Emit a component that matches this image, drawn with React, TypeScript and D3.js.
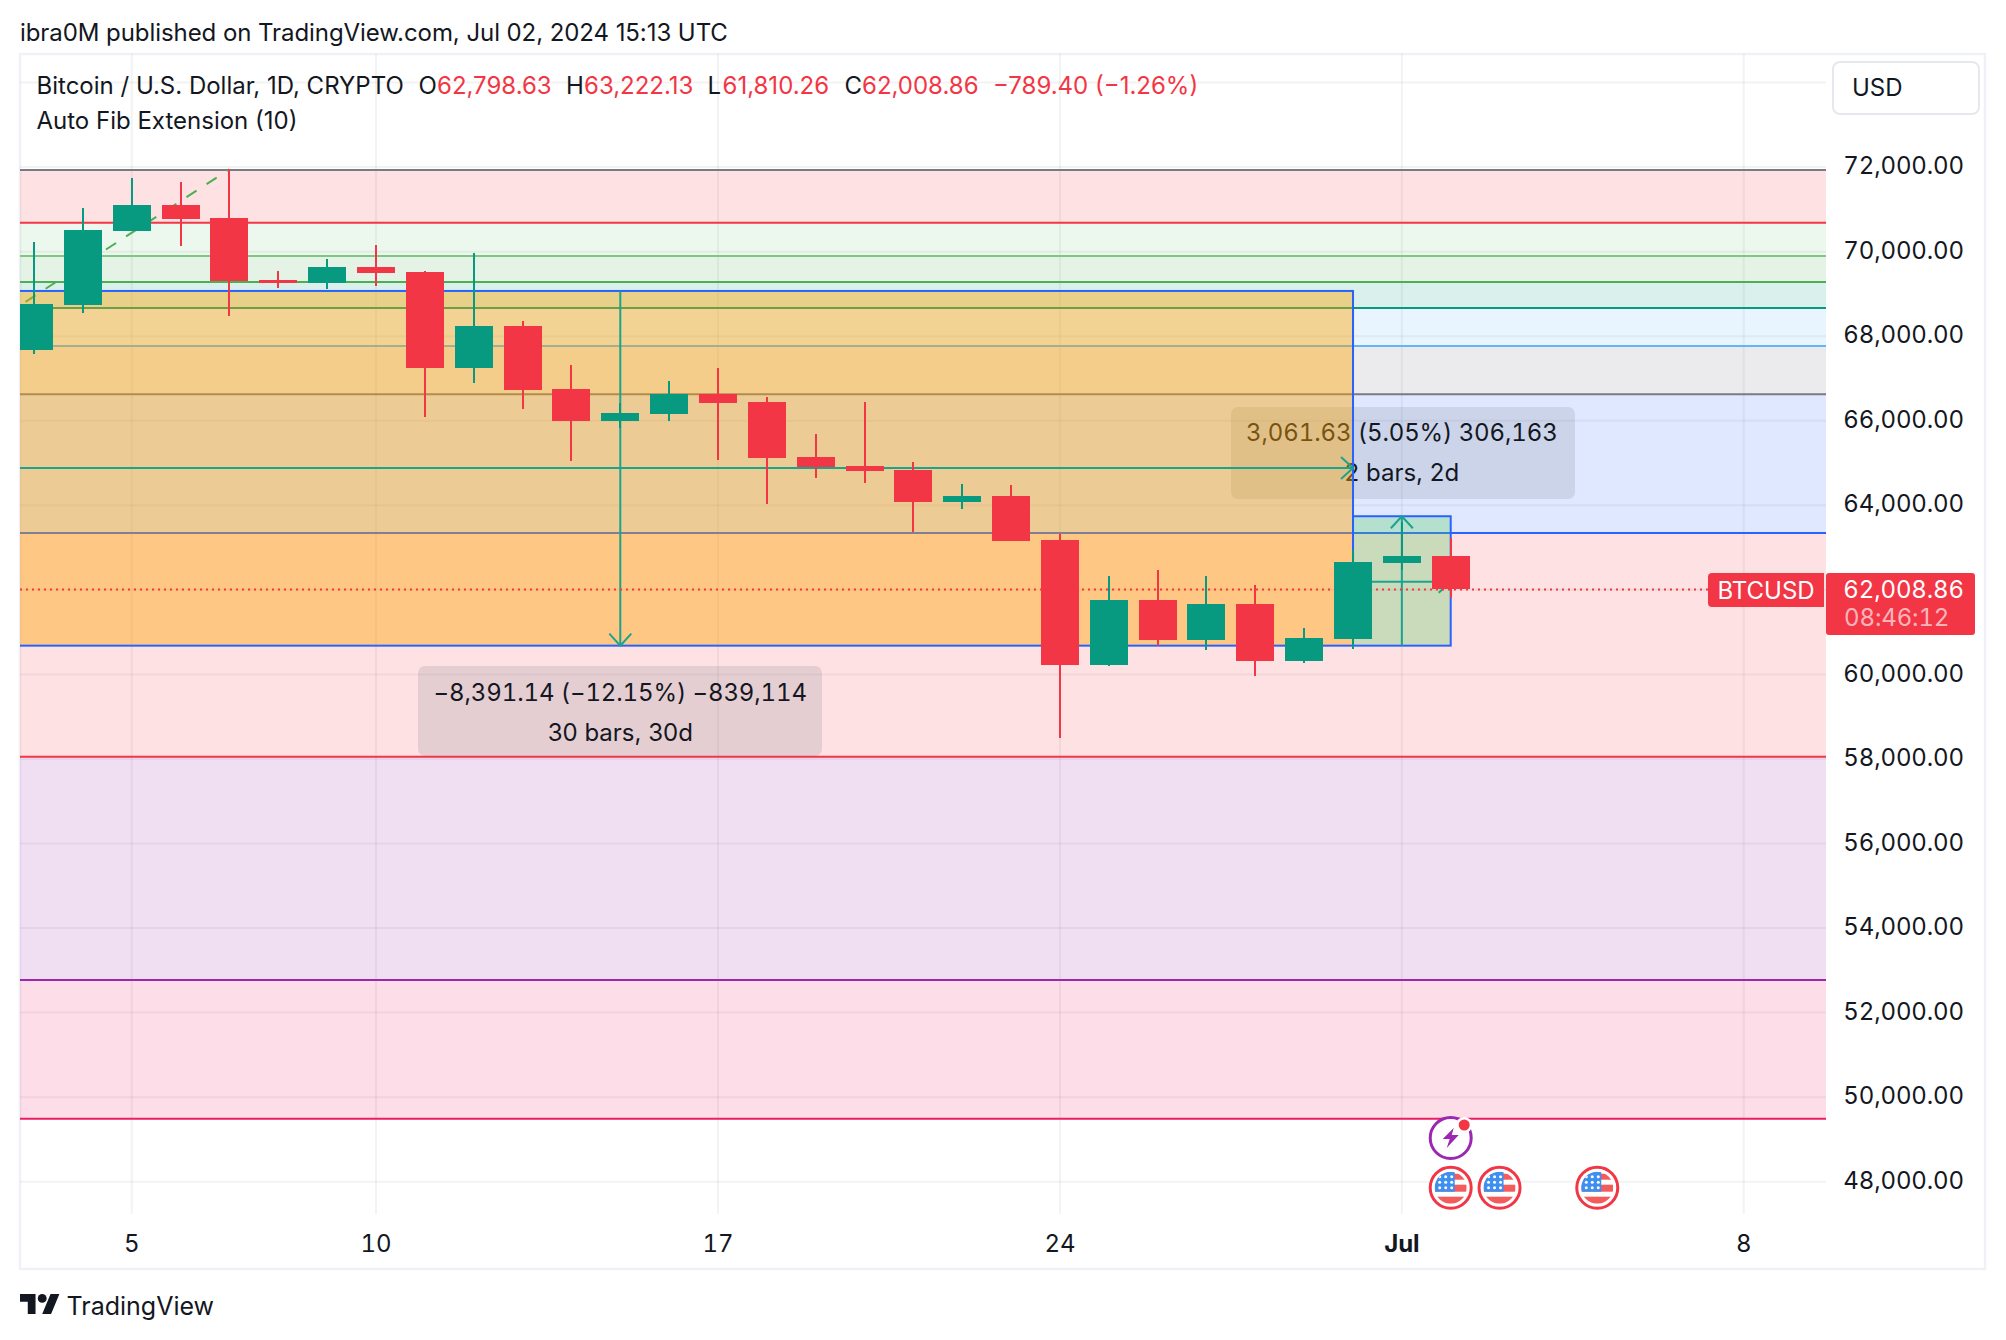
import React, { useEffect, useRef } from 'react'
import * as d3 from 'd3'

// June day numbers, July continues as 31 = Jul 1
const days = [3, 4, 5, 6, 7, 8, 9, 10, 11, 12, 13, 14, 15, 16, 17, 18, 19, 20, 21, 22, 23, 24, 25, 26, 27, 28, 29, 30, 31, 32]
const opens = [67674, 68738, 70489, 71104, 70796, 69330, 69259, 69637, 69519, 67248, 68242, 66752, 65994, 66160, 66631, 66444, 65143, 64930, 64835, 64078, 64220, 63180, 60222, 61760, 60814, 61665, 60313, 60838, 62633, 62798.63]
const highs = [70222, 71033, 71743, 71648, 71950, 69543, 69826, 70158, 69543, 69968, 68360, 67319, 66420, 66941, 67248, 66562, 65686, 66444, 65025, 64503, 64480, 63322, 62328, 62470, 62328, 62115, 61098, 62941, 63600, 63222.13]
const lows = [67579, 68549, 70489, 70134, 68485, 69140, 69117, 69188, 66089, 66893, 66278, 65048, 65836, 65994, 65072, 64031, 64645, 64527, 63369, 63913, 63156, 58496, 60198, 60672, 60577, 59958, 60266, 60601, 62470, 61810.26]
const closes = [68762, 70513, 71104, 70773, 69306, 69259, 69637, 69495, 67248, 68242, 66728, 65994, 66184, 66631, 66420, 65119, 64906, 64812, 64078, 64220, 63156, 60222, 61760, 60814, 61665, 60313, 60861, 62657, 62798.63, 62008.86]

const fibLevels = [71930, 70685, 69897, 69282, 68667, 67768, 66628, 63345, 58053, 52771, 49490]
const fibColors = ['#787b86', '#f23645', '#81c784', '#4caf50', '#089981', '#64b5f6', '#787b86', '#2962ff', '#f23645', '#9c27b0', '#e91e63']
const fibTrend = [[2, 68194], [7, 71950]]

const gridPrices = d3.range(48000, 74001, 2000)
const axisPrices = [72000, 70000, 68000, 66000, 64000, 60000, 58000, 56000, 54000, 52000, 50000, 48000]
const dayTicks = [5, 10, 17, 24, 31, 38]
const dayLabels = ['5', '10', '17', '24', 'Jul', '8']
const eventDays = [32, 33, 35]
const lastPrice = 62008.86

const measureDown = { from: 0, to: 30, mid: 15, top: 69070, bottom: 60680 }
const measureUp = { from: 30, to: 32, mid: 31, top: 63741, bottom: 60680 }

const font = 'Inter, "Noto Sans", sans-serif'
const ink = '#131722'
const red = '#f23645'
const green = '#089981'
const blue = '#2962ff'

const x = d3.scaleLinear().domain([5, 38]).range([131.8, 1743.8])
const y = d3.scaleLinear().domain([48000, 72000]).range([1181.7, 167.1])

const plotLeft = 20
const plotRight = 1826
const plotTop = 54
const plotBottom = 1214

export default function App() {
  const svgRef = useRef(null)

  useEffect(() => {
    const svg = d3.select(svgRef.current)
    svg.selectAll('*').remove()

    svg.append('rect').attr('width', 2006).attr('height', 1340).attr('fill', '#fff')
    svg.append('defs').append('clipPath').attr('id', 'plot').append('rect')
      .attr('x', plotLeft).attr('y', plotTop).attr('width', plotRight - plotLeft).attr('height', plotBottom - plotTop)

    const text = (parent, str, px, py, size, color = ink, anchor = 'start', weight = 400) =>
      parent.append('text').attr('x', px).attr('y', py).attr('dy', '0.36em')
        .attr('font-family', font).attr('font-size', size).attr('fill', color)
        .attr('text-anchor', anchor).attr('font-weight', weight).text(str)
    // axis and tool labels use fixed width digits, the legend does not
    const numText = (parent, str, px, py, size, color = ink, anchor = 'start', weight = 400) =>
      text(parent, str, px, py, size, color, anchor, weight)
        .style('font-variant-numeric', 'tabular-nums').attr('letter-spacing', -0.12)

    // frame
    svg.append('rect').attr('x', plotLeft).attr('y', plotTop).attr('width', 1965).attr('height', 1215)
      .attr('fill', 'none').attr('stroke', '#f0f1f6').attr('stroke-width', 2.5)

    const plot = svg.append('g').attr('clip-path', 'url(#plot)')

    // grid
    plot.append('g').selectAll('line').data(gridPrices).join('line')
      .attr('x1', plotLeft).attr('x2', plotRight)
      .attr('y1', d => y(d)).attr('y2', d => y(d))
      .attr('stroke', 'rgba(42,46,57,0.06)').attr('stroke-width', 2)
    plot.append('g').selectAll('line').data(dayTicks).join('line')
      .attr('x1', d => x(d)).attr('x2', d => x(d))
      .attr('y1', plotTop).attr('y2', plotBottom)
      .attr('stroke', 'rgba(42,46,57,0.06)').attr('stroke-width', 2)

    // fib bands
    plot.append('g').selectAll('rect').data(d3.pairs(fibLevels)).join('rect')
      .attr('x', plotLeft).attr('width', plotRight - plotLeft)
      .attr('y', d => y(d[0])).attr('height', d => y(d[1]) - y(d[0]))
      .attr('fill', (d, i) => d3.color(fibColors[i + 1]).copy({ opacity: 0.15 }).toString())
    plot.append('g').selectAll('line').data(fibLevels).join('line')
      .attr('x1', plotLeft).attr('x2', plotRight)
      .attr('y1', d => y(d)).attr('y2', d => y(d))
      .attr('stroke', (d, i) => fibColors[i]).attr('stroke-width', 2)

    plot.append('path')
      .attr('d', d3.line().x(d => x(d[0])).y(d => y(d[1]))(fibTrend))
      .attr('fill', 'none').attr('stroke', '#4caf50').attr('stroke-width', 2).attr('stroke-dasharray', '12 12')

    const chevron = (g, px, py, dir) => {
      const paths = {
        down: `M${px - 11},${py - 12}L${px},${py}L${px + 11},${py - 12}`,
        up: `M${px - 11},${py + 12}L${px},${py}L${px + 11},${py + 12}`,
        right: `M${px - 12},${py - 11}L${px},${py}L${px - 12},${py + 11}`,
      }
      g.append('path').attr('d', paths[dir]).attr('fill', 'none').attr('stroke', '#1ba48d').attr('stroke-width', 2)
    }

    const drawMeasure = (g, m, fill, dir, arrowY) => {
      const x0 = x(m.from), x1 = x(m.to), y0 = y(m.top), y1 = y(m.bottom), xm = x(m.mid)
      g.append('rect').attr('x', x0).attr('y', y0).attr('width', x1 - x0).attr('height', y1 - y0)
        .attr('fill', fill).attr('stroke', blue).attr('stroke-width', 2)
      g.append('line').attr('x1', xm).attr('x2', xm).attr('y1', y0).attr('y2', y1).attr('stroke', '#1ba48d').attr('stroke-width', 2)
      g.append('line').attr('x1', x0).attr('x2', x1).attr('y1', arrowY).attr('y2', arrowY).attr('stroke', '#1ba48d').attr('stroke-width', 2)
      chevron(g, xm, dir === 'down' ? y1 : y0, dir)
      chevron(g, x1, arrowY, 'right')
    }

    const drawLabel = (g, cx, left, right, top, bottom, l1, l2, y1, y2) => {
      g.append('rect').attr('x', left).attr('y', top).attr('width', right - left).attr('height', bottom - top)
        .attr('rx', 7).attr('fill', 'rgba(120,123,134,0.18)')
      numText(g, l1, cx, y1, 24, ink, 'middle')
      text(g, l2, cx, y2, 24, ink, 'middle')
    }

    const drawings = plot.append('g')
    // the later measure and its label sit under the first box
    drawMeasure(drawings, measureUp, 'rgba(85,205,100,0.3)', 'up', 581.7)
    drawLabel(drawings, x(measureUp.mid), 1231, 1575, 407, 499, '3,061.63 (5.05%) 306,163', '2 bars, 2d', 432.7, 472.7)
    drawMeasure(drawings, measureDown, 'rgba(255,165,0,0.42)', 'down', 468)
    drawLabel(drawings, x(measureDown.mid), 418, 822, 666, 756, '\u22128,391.14 (\u221212.15%) \u2212839,114', '30 bars, 30d', 692, 732)

    // last price line
    plot.append('line').attr('x1', plotLeft).attr('x2', 1708)
      .attr('y1', y(lastPrice)).attr('y2', y(lastPrice))
      .attr('stroke', red).attr('stroke-width', 2).attr('stroke-dasharray', '2 4')

    // candles
    const candles = days.map((d, i) => ({ d, o: opens[i], h: highs[i], l: lows[i], c: closes[i] }))
    const candle = plot.append('g').attr('shape-rendering', 'crispEdges')
      .selectAll('g').data(candles).join('g')
      .attr('fill', d => (d.c >= d.o ? green : red))
    candle.append('rect').attr('x', d => x(d.d) - 1).attr('width', 2)
      .attr('y', d => y(d.h)).attr('height', d => y(d.l) - y(d.h))
    candle.append('rect').attr('x', d => x(d.d) - 19).attr('width', 38)
      .attr('y', d => y(Math.max(d.o, d.c))).attr('height', d => Math.abs(y(d.o) - y(d.c)))

    // event icons
    const defs = svg.select('defs')
    defs.append('clipPath').attr('id', 'flag').append('circle').attr('r', 16)
    const flags = svg.append('g').selectAll('g').data(eventDays).join('g')
      .attr('transform', d => `translate(${x(d)},1187.7)`)
    flags.append('circle').attr('r', 20.5).attr('fill', '#fff').attr('stroke', red).attr('stroke-width', 3)
    const flag = flags.append('g').attr('clip-path', 'url(#flag)')
    ;[[-14, 6], [-3, 7], [9, 7]].forEach(s => {
      flag.append('rect').attr('x', -16).attr('y', s[0]).attr('width', 32).attr('height', s[1]).attr('fill', '#f45b5b')
    })
    flag.append('rect').attr('x', -16).attr('y', -16).attr('width', 20).attr('height', 20).attr('fill', '#3d8ff0')
    d3.range(3).forEach(r => d3.range(3).forEach(c => {
      flag.append('circle').attr('cx', -11 + c * 6).attr('cy', -11 + r * 5.5).attr('r', 1.5).attr('fill', '#fff')
    }))

    const bolt = svg.append('g').attr('transform', `translate(${x(eventDays[0])},1138)`)
    bolt.append('circle').attr('r', 20.5).attr('fill', '#fff').attr('stroke', '#9c27b0').attr('stroke-width', 3)
    bolt.append('path').attr('d', 'M3,-10L-8,1L-1,1L-4,10L8,-3L1,-3Z').attr('fill', '#9c27b0')
    bolt.append('circle').attr('cx', 13.5).attr('cy', -13).attr('r', 8).attr('fill', '#fff')
    bolt.append('circle').attr('cx', 13.5).attr('cy', -13).attr('r', 5.5).attr('fill', red)

    // axes
    axisPrices.forEach(p => numText(svg, d3.format(',.2f')(p), 1964, y(p) - 1.5, 24, ink, 'end'))
    dayTicks.forEach((d, i) => numText(svg, dayLabels[i], x(d), 1243, 24, ink, 'middle', dayLabels[i] === 'Jul' ? 700 : 400))

    // price tags
    svg.append('path').attr('d', 'M1712,573H1824V607H1712a4,4 0 0 1 -4,-4V577a4,4 0 0 1 4,-4Z').attr('fill', red)
    text(svg, 'BTCUSD', 1766, 590, 24, '#fff', 'middle')
    svg.append('rect').attr('x', 1826).attr('y', 573).attr('width', 149).attr('height', 62).attr('rx', 3).attr('fill', red)
    numText(svg, d3.format(',.2f')(lastPrice), 1964, 589, 24, '#fff', 'end')
    numText(svg, '08:46:12', 1844, 617, 24, 'rgba(255,255,255,0.65)')

    // header + legend
    text(svg, 'ibra0M published on TradingView.com, Jul 02, 2024 15:13 UTC', 20, 32, 24).attr('letter-spacing', -0.07)
    text(svg, 'Bitcoin / U.S. Dollar, 1D, CRYPTO', 36.5, 85.5, 24)
    text(svg, 'O', 418.5, 85.5, 24)
    text(svg, '62,798.63', 437, 85.5, 24, red)
    text(svg, 'H', 566, 85.5, 24)
    text(svg, '63,222.13', 584, 85.5, 24, red)
    text(svg, 'L', 707.5, 85.5, 24)
    text(svg, '61,810.26', 722.5, 85.5, 24, red)
    text(svg, 'C', 844.5, 85.5, 24)
    text(svg, '62,008.86', 862, 85.5, 24, red)
    text(svg, '\u2212789.40 (\u22121.26%)', 993, 85.5, 24, red)
    text(svg, 'Auto Fib Extension (10)', 36.5, 120, 24)

    // currency button
    svg.append('rect').attr('x', 1833).attr('y', 62).attr('width', 146).attr('height', 52).attr('rx', 7)
      .attr('fill', '#fff').attr('stroke', '#e6e8ee').attr('stroke-width', 2)
    text(svg, 'USD', 1852, 87, 24)

    // logo
    const logo = svg.append('g').attr('transform', 'translate(20,1289.5) scale(1.11)').attr('fill', ink)
    logo.append('path').attr('d', 'M14 22H7V11H0V4h14v18zM28 22h-8l7.5-18h8L28 22z')
    logo.append('circle').attr('cx', 20).attr('cy', 8).attr('r', 4)
    text(svg, 'TradingView', 66.5, 1305.5, 25)
  }, [])

  return <svg ref={svgRef} width={2006} height={1340} style={{ position: 'fixed', left: 0, top: 0 }} />
}
